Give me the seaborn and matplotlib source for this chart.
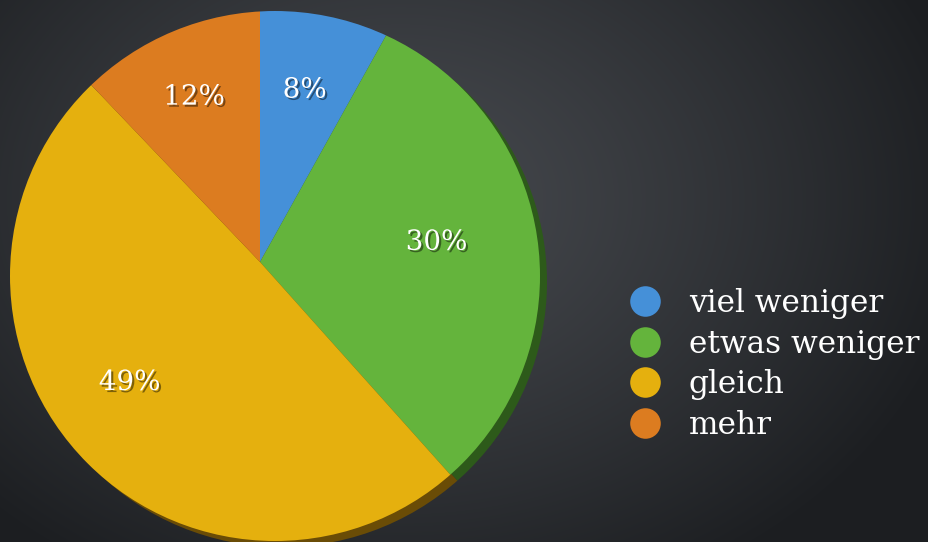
import numpy as np
import matplotlib
matplotlib.use("Agg")
import matplotlib.pyplot as plt
import matplotlib.patheffects as pe
from matplotlib.lines import Line2D
from matplotlib.patches import Circle
import seaborn as sns

categories = ["viel weniger", "etwas weniger", "gleich", "mehr"]
values = [8, 30, 49, 12]
pct_labels = ["8%", "30%", "49%", "12%"]
colors = ["#4590d8", "#64b43c", "#e5b00e", "#dc7c20"]
side_colors = ["#22486c", "#2d5a1a", "#6a4c06", "#6a3a0e"]

sns.set_theme(style="white")
plt.rcParams['font.family'] = ['DejaVu Serif', 'DejaVu Sans']

W, H = 929, 542
fig = plt.figure(figsize=(W / 100, H / 100), dpi=100)

# background gradient
bg = fig.add_axes([0, 0, 1, 1])
yy, xx = np.mgrid[0:H, 0:W]
d = np.sqrt(((xx - 400) / 580.0) ** 2 + ((yy - 200) / 440.0) ** 2)
d = np.clip(d, 0, 1) ** 1.2
top = np.array([0x46, 0x49, 0x4e]) / 255.0
edge = np.array([0x1c, 0x1e, 0x21]) / 255.0
img = top[None, None, :] * (1 - d[..., None]) + edge[None, None, :] * d[..., None]
bg.imshow(img, extent=[0, W, 0, H], aspect='auto', origin='upper')
bg.set_axis_off()

ax = fig.add_axes([0, 0, 1, 1])
ax.set_xlim(0, W)
ax.set_ylim(0, H)
ax.set_aspect('equal')
ax.set_axis_off()

ax_x, ax_y = 260, H - 262          # apex where slices meet
fx, fy, fr = 275, H - 276, 265     # outline of pie face
big_r = 320

# extruded side (dark rim)
side_w, _ = ax.pie(values, colors=side_colors, startangle=90, counterclock=False,
                   center=(ax_x + 7, ax_y - 6), radius=big_r, frame=True,
                   wedgeprops=dict(linewidth=0))
side_clip = Circle((fx + 7, fy - 6), fr, transform=ax.transData)
for w in side_w:
    w.set_clip_on(True)
    w.set_clip_path(side_clip)

wedges, texts = ax.pie(values, colors=colors, startangle=90, counterclock=False,
                       center=(ax_x, ax_y), radius=big_r, frame=True,
                       labels=pct_labels, labeldistance=0.555,
                       wedgeprops=dict(linewidth=0),
                       textprops=dict(color="white", fontsize=20,
                                      path_effects=[pe.withSimplePatchShadow(offset=(1.5, -1.5), shadow_rgbFace='black', alpha=0.45)]))
face_clip = Circle((fx, fy), fr, transform=ax.transData)
for w in wedges:
    w.set_clip_on(True)
    w.set_clip_path(face_clip)
for t in texts:
    t.set_ha('center')
    t.set_va('center')
ax.set_xlim(0, W)
ax.set_ylim(0, H)
ax.set_axis_off()

handles = [Line2D([0], [0], marker='o', linestyle='', markersize=22,
                  markerfacecolor=c, markeredgewidth=0) for c in colors]
leg = fig.legend(handles, categories, loc='upper left',
                 bbox_to_anchor=(629 / W, 1 - 288 / H), frameon=False,
                 fontsize=22.5, handlelength=1.02, handletextpad=0.9,
                 labelspacing=0.31, borderpad=0, borderaxespad=0)
for t in leg.get_texts():
    t.set_color("white")

fig.savefig("out.png", dpi=100)
